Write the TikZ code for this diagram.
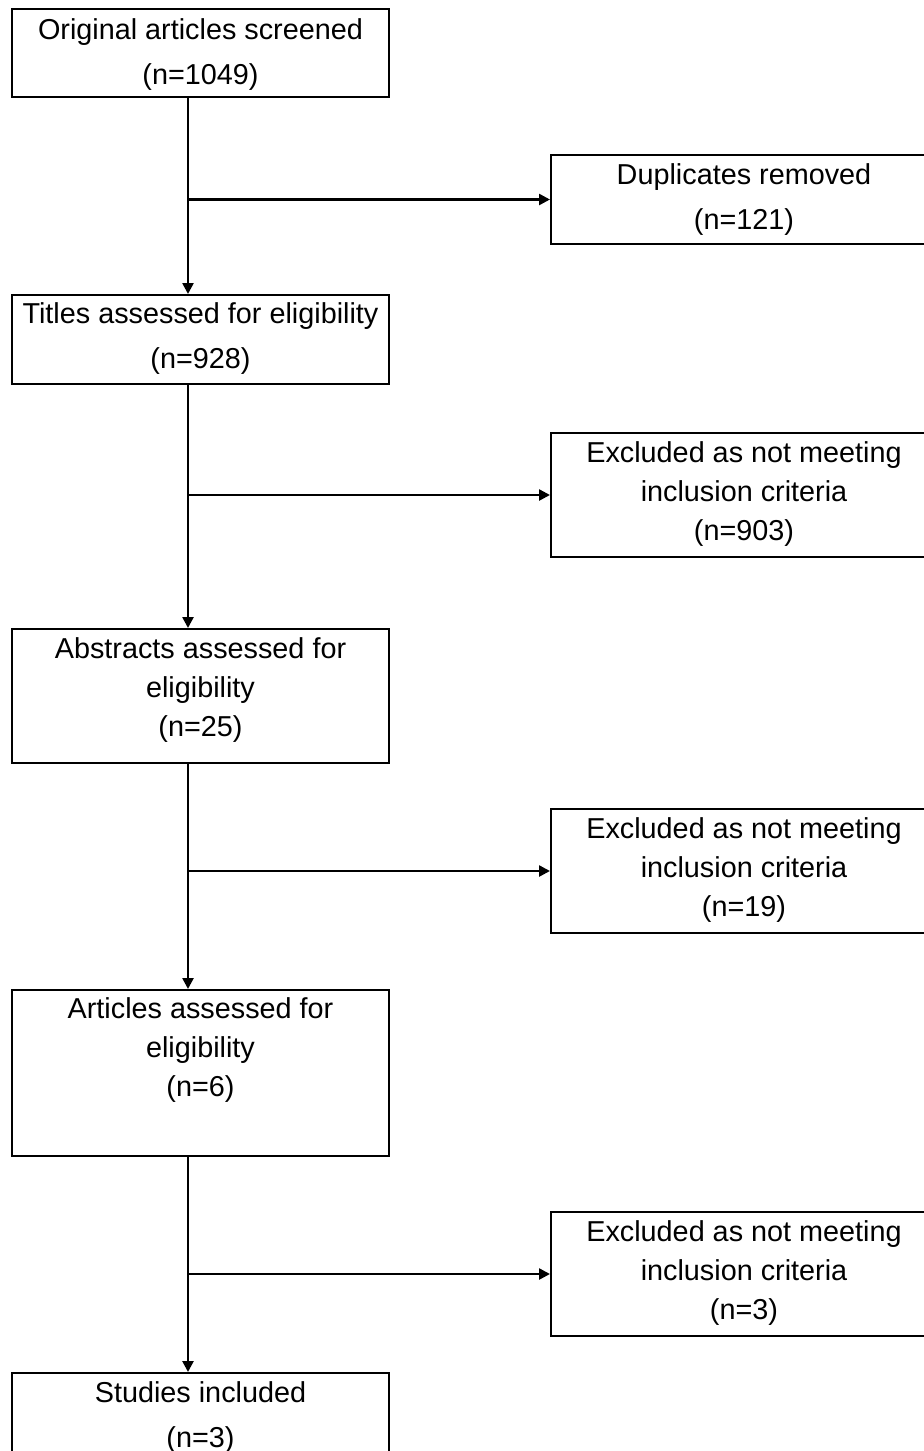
\documentclass[tikz,border=0pt]{standalone}
\usepackage{fontspec}
\setmainfont{Liberation Sans}
\usetikzlibrary{arrows.meta}
\begin{document}
\begin{tikzpicture}[x=0.5pt,y=-0.5pt,
  box/.style={draw,line width=1pt,inner sep=0pt,rectangle},
  lbox/.style={box,minimum width=188.5pt},
  rbox/.style={box,minimum width=193pt},
  txt/.style={anchor=north,inner sep=0pt,align=center,font=\fontsize{14.4}{22.5}\selectfont},
  txtc/.style={anchor=north,inner sep=0pt,align=center,font=\fontsize{14.4}{19.5}\selectfont},
  conn/.style={line width=1.25pt,-{Triangle[length=5.5pt,width=5.5pt]}}]
\useasboundingbox (0,0) rectangle (923,1451);
\coordinate (spine) at (188,0);
% left column
\node[lbox,minimum height=44pt] (b1) at (200.5,53) {};
\node[txt] (t1) at ([yshift=-5pt]b1.north) {Original articles screened\\(n=1049)};
\node[lbox,minimum height=44.5pt] (b2) at (200.5,339.5) {};
\node[txt] (t2) at ([yshift=-4pt]b2.north) {Titles assessed for eligibility\\(n=928)};
\node[lbox,minimum height=67pt] (b3) at (200.5,696) {};
\node[txtc] (t3) at ([yshift=-4.5pt]b3.north) {Abstracts assessed for\\eligibility\\(n=25)};
\node[lbox,minimum height=83pt] (b4) at (200.5,1073) {};
\node[txtc] (t4) at ([yshift=-4pt]b4.north) {Articles assessed for\\eligibility\\(n=6)};
\node[lbox,minimum height=44.5pt] (b5) at (200.5,1417.5) {};
\node[txt] (t5) at ([yshift=-4.5pt]b5.north) {Studies included\\(n=3)};
% right column
\node[rbox,minimum height=44.5pt] (r1) at (744,199.5) {};
\node[txt] (u1) at ([yshift=-4.5pt]r1.north) {Duplicates removed\\(n=121)};
\node[rbox,minimum height=62pt] (r2) at (744,495) {};
\node[txtc] (u2) at ([yshift=-4.5pt]r2.north) {Excluded as not meeting\\inclusion criteria\\(n=903)};
\node[rbox,minimum height=62pt] (r3) at (744,871) {};
\node[txtc] (u3) at ([yshift=-4.5pt]r3.north) {Excluded as not meeting\\inclusion criteria\\(n=19)};
\node[rbox,minimum height=62pt] (r4) at (744,1274) {};
\node[txtc] (u4) at ([yshift=-4.5pt]r4.north) {Excluded as not meeting\\inclusion criteria\\(n=3)};
% connectors
\draw[conn] (b1.south -| spine) -- (b2.north -| spine);
\draw[conn] (b2.south -| spine) -- (b3.north -| spine);
\draw[conn] (b3.south -| spine) -- (b4.north -| spine);
\draw[conn] (b4.south -| spine) -- (b5.north -| spine);
\draw[conn] (spine |- r1.west) -- (r1.west);
\draw[conn] (spine |- r2.west) -- (r2.west);
\draw[conn] (spine |- r3.west) -- (r3.west);
\draw[conn] (spine |- r4.west) -- (r4.west);
\end{tikzpicture}
\end{document}
